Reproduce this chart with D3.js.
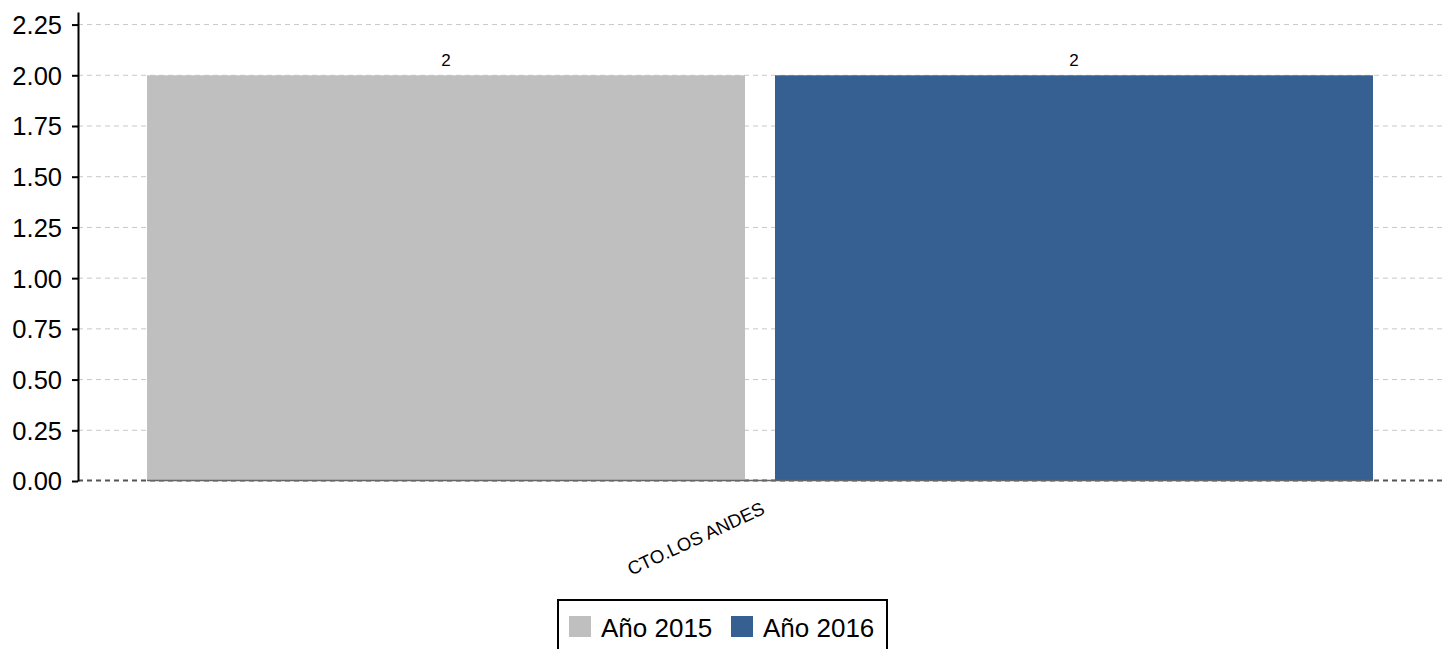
<!DOCTYPE html>
<html>
<head>
<meta charset="utf-8">
<script src="https://d3js.org/d3.v7.min.js"></script>
<style>
  body { margin: 0; background: #fff; }
  svg { font-family: "Liberation Sans", Arial, sans-serif; }
  .grid line { stroke: #c8c8c8; stroke-dasharray: 5,4; }
</style>
</head>
<body>
<script>
// datos
var categories = ["CTO.LOS ANDES"];
var seriesNames = ["Año 2015", "Año 2016"];
var values2015 = [2];
var values2016 = [2];
var yTicks = [0, 0.25, 0.5, 0.75, 1, 1.25, 1.5, 1.75, 2, 2.25];
var colors = ["#bfbfbf", "#366092"];

var W = 1447, H = 649;
var margin = {top: 12, right: 5, bottom: 168, left: 78};
var width = W - margin.left - margin.right,
    height = H - margin.top - margin.bottom;

var svg = d3.select("body").append("svg")
  .attr("width", W).attr("height", H);
var g = svg.append("g")
  .attr("transform", "translate(" + margin.left + "," + margin.top + ")");

var x0 = d3.scaleBand().domain(categories).range([0, width]).paddingInner(0).paddingOuter(0.0563);
var x1 = d3.scaleBand().domain(seriesNames).range([0, x0.bandwidth()]).paddingInner(0.0478);
var y = d3.scaleLinear().domain([0, 2.312]).range([height, 0]);

// lineas de grilla
g.append("g").attr("class", "grid")
  .selectAll("line").data(yTicks.slice(1)).enter().append("line")
  .attr("x1", 0).attr("x2", width)
  .attr("y1", function(d) { return y(d); })
  .attr("y2", function(d) { return y(d); });
g.append("line")
  .attr("x1", 0).attr("x2", width)
  .attr("y1", y(0) - 0.5).attr("y2", y(0) - 0.5)
  .attr("stroke", "#555").attr("stroke-width", 2).attr("stroke-dasharray", "5,4");

// barras
var rows = categories.map(function(c, i) {
  return {cat: c, vals: [values2015[i], values2016[i]]};
});
var grp = g.selectAll(".cat").data(rows).enter().append("g")
  .attr("transform", function(d) { return "translate(" + x0(d.cat) + ",0)"; });
grp.selectAll("rect").data(function(d) { return d.vals; }).enter().append("rect")
  .attr("x", function(d, i) { return x1(seriesNames[i]); })
  .attr("width", x1.bandwidth())
  .attr("y", function(d) { return y(d); })
  .attr("height", function(d) { return y(0) - y(d); })
  .attr("fill", function(d, i) { return colors[i]; });
grp.selectAll("text.val").data(function(d) { return d.vals; }).enter().append("text")
  .attr("class", "val")
  .attr("x", function(d, i) { return x1(seriesNames[i]) + x1.bandwidth() / 2; })
  .attr("y", function(d) { return y(d) - 9; })
  .attr("text-anchor", "middle")
  .attr("font-size", 17)
  .text(function(d) { return d; });

// linea base gris bajo las barras
g.append("line")
  .attr("x1", x0(categories[0]) + x1(seriesNames[0]))
  .attr("x2", x0(categories[0]) + x1(seriesNames[1]) + x1.bandwidth())
  .attr("y1", y(0) - 0.5).attr("y2", y(0) - 0.5)
  .attr("stroke", "#666").attr("stroke-width", 1.5);

// eje y
var yAxis = g.append("g")
  .call(d3.axisLeft(y).tickValues(yTicks).tickFormat(d3.format(".2f")).tickSize(6).tickSizeOuter(0));
yAxis.attr("font-size", null).attr("font-family", null);
yAxis.select(".domain").attr("stroke", "#000").attr("stroke-width", 2);
yAxis.selectAll(".tick line").attr("stroke", "#000").attr("stroke-width", 2);
yAxis.selectAll("text").attr("font-size", 25.5).attr("fill", "#000")
  .attr("x", -16).attr("dy", "0.35em");

// eje x etiquetas
g.append("g").selectAll("text").data(categories).enter().append("text")
  .attr("transform", function(d) {
    return "translate(" + (x0(d) + x0.bandwidth() / 2 + 6) + "," + (height + 32) + ") rotate(-25)";
  })
  .attr("text-anchor", "end")
  .attr("font-size", 18.5)
  .text(function(d) { return d; });

// leyenda
var leg = svg.append("g").attr("transform", "translate(558,600)");
leg.append("rect").attr("x", 0).attr("y", 0).attr("width", 329).attr("height", 60)
  .attr("fill", "#fff").attr("stroke", "#000").attr("stroke-width", 2);
var offs = [11, 173];
seriesNames.forEach(function(s, i) {
  leg.append("rect").attr("x", offs[i]).attr("y", 16).attr("width", 22).attr("height", 21).attr("fill", colors[i]);
  leg.append("text").attr("x", offs[i] + 32).attr("y", 37)
    .attr("font-size", 26).text(s);
});
</script>
</body>
</html>
